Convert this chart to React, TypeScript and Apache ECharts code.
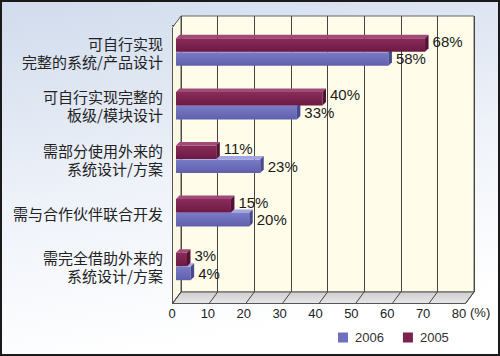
import React, { useEffect, useRef } from "react";
import * as echarts from "echarts";

const categories = [
  "可自行实现\n完整的系统/产品设计",
  "可自行实现完整的\n板级/模块设计",
  "需部分使用外来的\n系统设计/方案",
  "需与合作伙伴联合开发",
  "需完全借助外来的\n系统设计/方案",
];
const values2005 = [68, 40, 11, 15, 3];
const values2006 = [58, 33, 23, 20, 4];
const AXIS_MIN = 0;
const AXIS_MAX = 80;
const AXIS_STEP = 10;

const FONT = '"Liberation Sans", Arial, sans-serif';
const CJK = '"Noto Sans CJK SC", sans-serif';

// wall depth offset (front relative to back) and bar depth offset
const FX = -8.5;
const FY = 11.5;
const DX = 3.5;
const DY = -3.5;

const lin = (a: string, b: string) => ({
  type: "linear",
  x: 0,
  y: 0,
  x2: 0,
  y2: 1,
  colorStops: [
    { offset: 0, color: a },
    { offset: 1, color: b },
  ],
});

const makeBarRender =
  (front: any, top: string, side: string, upper: boolean) =>
  (params: any, api: any) => {
    const v = api.value(0);
    const i = api.value(1);
    const s = api.coord([0, i]);
    const e = api.coord([v, i]);
    const c = s[1];
    const h = 13.5;
    const y0 = upper ? c - h - 0.5 : c;
    const x0 = s[0];
    const x1 = e[0];
    return {
      type: "group",
      children: [
        {
          type: "rect",
          shape: { x: x0, y: y0, width: x1 - x0, height: h },
          style: { fill: front },
        },
        {
          type: "polygon",
          shape: {
            points: [
              [x0, y0],
              [x1, y0],
              [x1 + DX, y0 + DY],
              [x0 + DX, y0 + DY],
            ],
          },
          style: { fill: top },
        },
        {
          type: "polygon",
          shape: {
            points: [
              [x1, y0],
              [x1 + DX, y0 + DY],
              [x1 + DX, y0 + h + DY],
              [x1, y0 + h],
            ],
          },
          style: { fill: side },
        },
        {
          type: "text",
          x: x1 + DX + 4,
          y: c + (upper ? -11 : 6.5),
          style: {
            text: v + "%",
            fill: "#1a1a1a",
            fontSize: 15,
            fontFamily: FONT,
            align: "left",
            verticalAlign: "middle",
          },
        },
      ],
    };
  };

export default function App() {
  const ref = useRef<HTMLDivElement>(null);
  useEffect(() => {
    if (!ref.current) return;
    const chart = echarts.init(ref.current, null, { renderer: "svg" });
    const ticks: number[] = [];
    for (let v = AXIS_MIN; v <= AXIS_MAX; v += AXIS_STEP) ticks.push(v);

    const option: any = {
      animation: false,
      backgroundColor: {
        type: "linear",
        x: 0,
        y: 0,
        x2: 0.25,
        y2: 1,
        colorStops: [
          { offset: 0, color: "#d0dbec" },
          { offset: 0.55, color: "#eef2f9" },
          { offset: 1, color: "#ffffff" },
        ],
      },
      grid: [
        {
          left: 181,
          top: 16,
          width: 293,
          height: 276,
          show: true,
          backgroundColor: "#fffde9",
          borderColor: "#666",
          borderWidth: 1,
        },
        { left: 176, top: 25.5, width: 293, height: 268 },
        { left: 172, top: 28, width: 287, height: 275 },
      ],
      xAxis: [
        {
          gridIndex: 0,
          type: "value",
          min: AXIS_MIN,
          max: AXIS_MAX,
          interval: AXIS_STEP,
          axisLabel: { show: false },
          axisLine: { show: false },
          axisTick: { show: false },
          splitLine: { show: true, lineStyle: { color: "#444", width: 1 } },
        },
        {
          gridIndex: 1,
          type: "value",
          min: AXIS_MIN,
          max: AXIS_MAX,
          interval: AXIS_STEP,
          show: false,
        },
        {
          gridIndex: 2,
          type: "value",
          min: AXIS_MIN,
          max: AXIS_MAX,
          interval: AXIS_STEP,
          axisLine: { show: false },
          axisTick: { show: false },
          splitLine: { show: false },
          axisLabel: {
            fontSize: 13,
            color: "#222",
            fontFamily: FONT,
            margin: 4,
          },
        },
      ],
      yAxis: [
        { gridIndex: 0, type: "value", min: 0, max: 1, show: false },
        {
          gridIndex: 1,
          type: "category",
          data: categories,
          inverse: true,
          offset: 4,
          axisLine: { show: false },
          axisTick: { show: true, length: 4, lineStyle: { color: "#444" } },
          splitLine: { show: false },
          axisLabel: {
            fontSize: 15,
            lineHeight: 18,
            color: "#222",
            fontFamily: CJK,
            margin: 9,
            align: "right",
          },
        },
        { gridIndex: 2, type: "value", min: 0, max: 1, show: false },
      ],
      legend: {
        data: ["2006", "2005"],
        left: 333,
        top: 326,
        icon: "rect",
        itemWidth: 10,
        itemHeight: 10,
        itemGap: 19,
        textStyle: {
          fontSize: 13,
          color: "#333",
          fontFamily: FONT,
          padding: [0, 0, 0, 2],
        },
      },
      graphic: [
        {
          type: "text",
          left: 470,
          top: 306,
          style: { text: "(%)", fontSize: 13, fill: "#222", fontFamily: FONT },
        },
        {
          type: "rect",
          shape: { x: 1, y: 1, width: 498, height: 354 },
          style: { fill: "none", stroke: "#1a1a1a", lineWidth: 2 },
          silent: true,
          z: 100,
        },
      ],
      series: [
        {
          type: "custom",
          name: "frame",
          xAxisIndex: 0,
          yAxisIndex: 0,
          silent: true,
          data: [[0, 0]],
          renderItem: (params: any, api: any) => {
            const cs = params.coordSys;
            const x0 = cs.x;
            const y0 = cs.y;
            const x1 = cs.x + cs.width;
            const y1 = cs.y + cs.height;
            const children: any[] = [
              {
                type: "polygon",
                shape: {
                  points: [
                    [x0, y0],
                    [x0, y1],
                    [x0 + FX, y1 + FY],
                    [x0 + FX, y0 + FY],
                  ],
                },
                style: { fill: "#fbf8e3", stroke: "#555", lineWidth: 1 },
              },
              {
                type: "polygon",
                shape: {
                  points: [
                    [x0, y1],
                    [x1, y1],
                    [x1 + FX, y1 + FY],
                    [x0 + FX, y1 + FY],
                  ],
                },
                style: {
                  fill: lin("#cfcfcf", "#e6e6e6"),
                  stroke: "#555",
                  lineWidth: 1,
                },
              },
            ];
            ticks.forEach((v) => {
              const p = api.coord([v, 0]);
              children.push({
                type: "line",
                shape: { x1: p[0], y1: p[1], x2: p[0] + FX, y2: p[1] + FY },
                style: { stroke: "#444", lineWidth: 1 },
              });
            });
            return { type: "group", children };
          },
        },
        {
          type: "custom",
          name: "2006",
          xAxisIndex: 1,
          yAxisIndex: 1,
          itemStyle: { color: "#6f70bd" },
          encode: { x: 0, y: 1 },
          data: values2006.map((v, i) => [v, i]),
          renderItem: makeBarRender(
            lin("#7a7bc6", "#5f60ad"),
            "#a3a4e2",
            "#47488f",
            false
          ),
        },
        {
          type: "custom",
          name: "2005",
          xAxisIndex: 1,
          yAxisIndex: 1,
          itemStyle: { color: "#7d2150" },
          encode: { x: 0, y: 1 },
          data: values2005.map((v, i) => [v, i]),
          renderItem: makeBarRender(
            lin("#8a2c5b", "#6c1942"),
            "#a04a76",
            "#561035",
            true
          ),
        },
      ],
    };
    chart.setOption(option);
    return () => chart.dispose();
  }, []);
  return (
    <div
      ref={ref}
      style={{ position: "absolute", left: 0, top: 0, width: 500, height: 356 }}
    />
  );
}
